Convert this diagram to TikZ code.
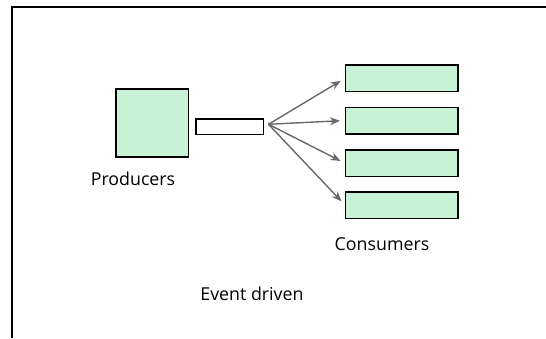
\documentclass[tikz,border=0pt]{standalone}
\usepackage{fontspec}
\setmainfont{Open Sans}
\usetikzlibrary{arrows.meta}
\definecolor{boxgreen}{RGB}{200,242,214}
\definecolor{arrowgray}{RGB}{105,105,105}
\tikzset{
  greenbox/.style={draw=black, line width=1.5pt, fill=boxgreen, inner sep=0pt},
  flow/.style={draw=arrowgray, line width=1.4pt, -{Stealth[length=10pt,width=8pt]}, shorten >=5pt},
  caption/.style={font=\fontsize{17.8}{19}\selectfont, inner sep=0pt, anchor=base}
}
\begin{document}
\begin{tikzpicture}[x=1pt,y=-1pt]
    \useasboundingbox (0,0) rectangle (546,338);
    \draw[line width=2pt] (11.8,338) -- (11.8,7) -- (546,7);
    \node[greenbox, minimum width=72.5pt, minimum height=68pt] (producer) at (152,123) {};
    \node[caption] (producerlabel) at (133,185) {Producers};
    \node[draw, line width=1.5pt, fill=white, inner sep=0pt, minimum width=67.5pt, minimum height=15.2pt] (queue) at (229.5,126.7) {};
    \coordinate (fan) at (268.5,124.3);
    \foreach \i/\y in {1/78.3, 2/120.5, 3/163.2, 4/205}
        \node[greenbox, minimum width=112.2pt, minimum height=26.5pt] (consumer\i) at (401.8,\y) {};
    \foreach \i in {1,...,4}
        \draw[flow] (fan) -- (consumer\i.west);
    \node[caption] (consumerlabel) at (382,250) {Consumers};
    \node[caption] (eventlabel) at (252,300) {Event driven};
\end{tikzpicture}
\end{document}
